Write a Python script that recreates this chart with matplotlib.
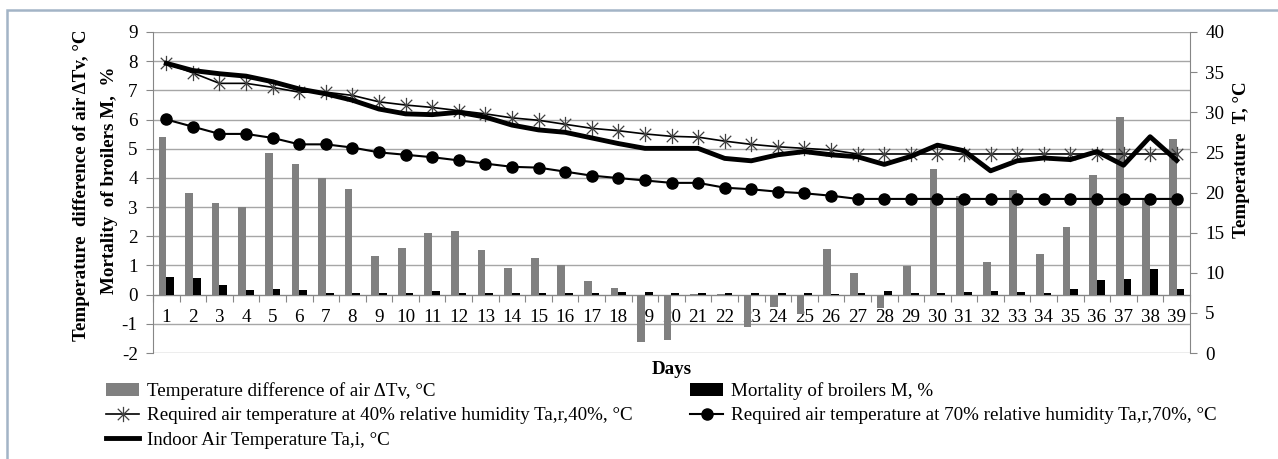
import matplotlib
matplotlib.use("Agg")
import matplotlib.pyplot as plt
from matplotlib.patches import Rectangle, Patch
from matplotlib.lines import Line2D
from matplotlib.path import Path

plt.rcParams['font.family'] = ['Liberation Serif', 'DejaVu Serif']
plt.rcParams['axes.unicode_minus'] = False

days = list(range(1, 40))

# temperature difference of air, left axis
dTv = [5.4, 3.5, 3.13, 3.0, 4.87, 4.48, 4.0, 3.62, 1.33, 1.6,
       2.12, 2.18, 1.53, 0.9, 1.27, 1.0, 0.48, 0.23, -1.63, -1.55,
       0.03, 0.02, -1.12, -0.41, -0.66, 1.58, 0.74, -0.46, 0.98, 4.32,
       3.37, 1.12, 3.57, 1.38, 2.32, 4.09, 6.1, 3.29, 5.32]
# mortality of broilers, left axis
mort = [0.6, 0.57, 0.34, 0.17, 0.2, 0.15, 0.07, 0.07, 0.07, 0.07,
        0.11, 0.07, 0.05, 0.05, 0.07, 0.05, 0.07, 0.1, 0.09, 0.06,
        0.06, 0.06, 0.06, 0.06, 0.06, 0.03, 0.06, 0.13, 0.06, 0.06,
        0.1, 0.12, 0.1, 0.06, 0.2, 0.49, 0.52, 0.89, 0.2]
# temperatures, right axis
t40 = [36.1, 34.9, 33.6, 33.6, 33.1, 32.5, 32.5, 32.1, 31.3, 30.9,
       30.6, 30.2, 29.8, 29.3, 29.0, 28.5, 28.0, 27.7, 27.3, 27.0,
       26.9, 26.4, 26.0, 25.7, 25.5, 25.3, 24.8, 24.8, 24.8, 24.8,
       24.8, 24.8, 24.8, 24.8, 24.8, 24.8, 24.8, 24.8, 24.8]
t70 = [29.1, 28.2, 27.3, 27.3, 26.8, 26.0, 26.0, 25.6, 25.0, 24.7,
       24.4, 24.0, 23.6, 23.2, 23.1, 22.6, 22.1, 21.8, 21.5, 21.2,
       21.2, 20.6, 20.4, 20.1, 19.9, 19.6, 19.2, 19.2, 19.2, 19.2,
       19.2, 19.2, 19.2, 19.2, 19.2, 19.2, 19.2, 19.2, 19.2]
tin = [36.1, 35.2, 34.8, 34.5, 33.8, 32.9, 32.3, 31.5, 30.4, 29.8,
       29.7, 30.0, 29.4, 28.4, 27.8, 27.5, 26.8, 26.1, 25.5, 25.5,
       25.5, 24.25, 23.95, 24.7, 25.1, 24.7, 24.45, 23.5, 24.5, 25.9,
       25.2, 22.7, 23.95, 24.3, 24.1, 25.1, 23.4, 26.95, 24.0]

W, H = 1278, 459
fs = 13.7
fig = plt.figure(figsize=(W / 100, H / 100), dpi=100)

# excel-like asterisk: vertical bar plus an x
star = Path([(0, -1), (0, 1), (-0.75, -0.75), (0.75, 0.75), (-0.75, 0.75), (0.75, -0.75)],
            [Path.MOVETO, Path.LINETO] * 3)

# outer frame
fig.add_artist(Rectangle((7 / W, -0.1), 1.2, 1 - 10 / H + 0.1, transform=fig.transFigure,
                         fill=False, edgecolor='#a3b4c6', linewidth=1.8))

ax = fig.add_axes([153 / W, 1 - 353 / H, (1190 - 153) / W, (353 - 32) / H])
ax.set_xlim(0.5, 39.5)
ax.set_ylim(-2, 9)
ax.set_yticks(range(-2, 10))
ax.grid(axis='y', color='#a6a6a6', linewidth=1)
ax.set_axisbelow(True)

bw = 0.29
ax.bar([d - bw / 2 for d in days], dTv, width=bw, color='#808080', zorder=3)
ax.bar([d + bw / 2 for d in days], mort, width=bw, color='black', zorder=3)

for s in ['top', 'right']:
    ax.spines[s].set_visible(False)
ax.spines['left'].set_color('#868686')
ax.spines['bottom'].set_position(('data', 0))
ax.spines['bottom'].set_color('#868686')
ax.set_xticks([d + 0.5 for d in range(0, 40)])
ax.set_xticklabels([])
ax.set_xticks(days, minor=True)
ax.set_xticklabels([str(d) for d in days], minor=True)
ax.tick_params(axis='x', which='major', direction='out', length=5, color='#868686')
ax.tick_params(axis='x', which='minor', length=0, pad=10, labelsize=fs)
ax.tick_params(axis='y', direction='out', length=5, color='#868686', labelsize=fs, pad=6)

ax2 = ax.twinx()
ax2.set_ylim(0, 40)
ax2.set_yticks(range(0, 41, 5))
for s in ['top', 'left', 'bottom']:
    ax2.spines[s].set_visible(False)
ax2.spines['right'].set_color('#868686')
ax2.tick_params(axis='y', direction='out', length=5, color='#868686', labelsize=fs, pad=6)

ax2.plot(days, t40, color='black', linewidth=1.2, marker=star, markersize=11,
         markeredgecolor='#404040', markeredgewidth=0.9)
ax2.plot(days, t70, color='black', linewidth=1.5, marker='o', markersize=8)
ax2.plot(days, tin, color='black', linewidth=3.5)

fig.text(82 / W, 1 - 185 / H, 'Temperature  difference of air \u0394Tv, \u00b0C', rotation=90,
         ha='center', va='center', fontsize=fs, fontweight='bold')
fig.text(110 / W, 1 - 180 / H, 'Mortality  of broilers M,  %', rotation=90,
         ha='center', va='center', fontsize=fs, fontweight='bold')
fig.text(1242 / W, 1 - 160 / H, 'Temperature  T, \u00b0C', rotation=90,
         ha='center', va='center', fontsize=fs, fontweight='bold')
fig.text(672 / W, 1 - 369 / H, 'Days', ha='center', va='center', fontsize=fs, fontweight='bold')

handles = [
    Patch(facecolor='#808080'),
    Line2D([], [], color='black', linewidth=1.2, marker=star, markersize=11,
           markeredgecolor='#404040', markeredgewidth=0.9),
    Line2D([], [], color='black', linewidth=3.5),
    Patch(facecolor='black'),
    Line2D([], [], color='black', linewidth=1.5, marker='o', markersize=8),
]
labels = [
    'Temperature difference of air \u0394Tv, \u00b0C',
    'Required air temperature at 40% relative humidity Ta,r,40%, \u00b0C',
    'Indoor Air Temperature Ta,i, \u00b0C',
    'Mortality of broilers M, %',
    'Required air temperature at 70% relative humidity Ta,r,70%, \u00b0C',
]
fig.legend(handles, labels, ncol=2, loc='upper left', bbox_to_anchor=(106 / W, 1 - 382 / H),
           frameon=False, fontsize=fs, handlelength=1.75, handletextpad=0.42,
           labelspacing=0.37, columnspacing=3.0, borderpad=0, borderaxespad=0)

fig.savefig('out.png', dpi=100)
